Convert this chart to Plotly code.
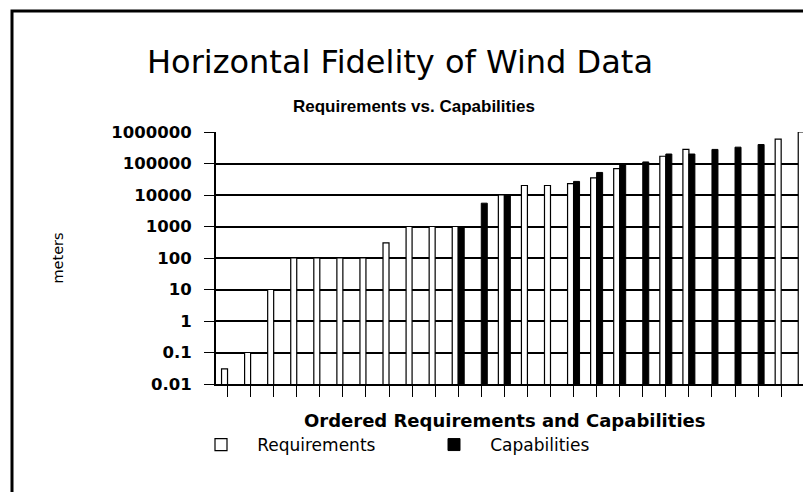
import plotly.graph_objects as go

# ---- data ----
categories = list(range(26))
requirements = [0.03, 0.1, 10, 100, 100, 100, 100, 300, 1000, 1000, 1000, None,
                10000, 20000, 20000, 23000, 35000, 69000, None, 170000, 280000,
                None, None, None, 590000, 1000000]
capabilities = [None, None, None, None, None, None, None, None, None, None, 1000, 5500,
                10000, None, None, 27000, 52000, 89000, 112000, 200000, 200000,
                280000, 330000, 400000, None, None]
ytick_vals = [0.01, 0.1, 1, 10, 100, 1000, 10000, 100000, 1000000]
ytick_text = ["0.01", "0.1", "1", "10", "100", "1000", "10000", "100000", "1000000"]

W, H = 811, 492
L, R, T, B = 208, 0, 124, 116
pw, ph = W - L - R, H - T - B

def px(x):
    return (x - L) / pw

def py(y):
    return (H - B - y) / ph

NB = "\u00a0\u00a0\u00a0"

fig = go.Figure()
fig.add_trace(go.Bar(x=categories, y=requirements, name=NB + "Requirements",
                     marker=dict(color="white", line=dict(color="black", width=1.2))))
fig.add_trace(go.Bar(x=categories, y=capabilities, name=NB + "Capabilities",
                     marker=dict(color="black", line=dict(color="black", width=1))))

fig.update_layout(
    width=W, height=H,
    margin=dict(l=L, r=R, t=T, b=B),
    paper_bgcolor="white", plot_bgcolor="white",
    barmode="group", bargap=0.48, bargroupgap=0,
    font=dict(family="Liberation Sans, Arial, sans-serif", color="black"),
    title=dict(text="Horizontal Fidelity of Wind Data",
               font=dict(family="DejaVu Sans", size=32, color="black"),
               x=392 / W, xanchor="center", y=1 - 54 / H, yanchor="middle"),
    showlegend=True,
    legend=dict(orientation="h", x=px(193), xanchor="left", y=py(437), yanchor="middle",
                font=dict(family="DejaVu Sans", size=17, color="black"),
                entrywidth=188, entrywidthmode="pixels", bgcolor="rgba(0,0,0,0)"),
)

fig.update_xaxes(range=[-0.5, 25.64], tickmode="array", tickvals=categories,
                 showticklabels=False, ticks="outside", ticklen=11, tickwidth=1.2,
                 tickcolor="black", showgrid=False, zeroline=False,
                 showline=True, linecolor="black", linewidth=1.5)
fig.update_yaxes(type="log", range=[-2, 6], tickmode="array", tickvals=ytick_vals,
                 ticktext=["<b>%s</b>" % t for t in ytick_text],
                 ticks="outside", ticklen=10, tickwidth=1.2, ticklabelstandoff=9,
                 tickcolor="black", showgrid=True, gridcolor="black", gridwidth=1.5,
                 zeroline=False, showline=True, linecolor="black", linewidth=2,
                 tickfont=dict(family="DejaVu Sans", size=16.5, color="black"),
                 title=dict(text="meters", font=dict(family="DejaVu Sans", size=14.5, color="black"),
                            standoff=44))

fig.add_annotation(text="<b>Requirements vs. Capabilities</b>", xref="paper", yref="paper",
                   x=px(406), y=py(99), xanchor="center", yanchor="middle", showarrow=False,
                   font=dict(family="Liberation Sans", size=17, color="black"))
fig.add_annotation(text="<b>Ordered Requirements and Capabilities</b>", xref="paper", yref="paper",
                   x=px(496), y=py(412), xanchor="center", yanchor="middle", showarrow=False,
                   font=dict(family="DejaVu Sans", size=18, color="black"))

# outer frame of the original slide
fig.add_shape(type="rect", xref="paper", yref="paper",
              x0=px(4), x1=px(W + 20), y0=py(H + 20), y1=py(3),
              line=dict(color="black", width=3), fillcolor="rgba(0,0,0,0)", layer="below")

fig.write_html("out.html")
